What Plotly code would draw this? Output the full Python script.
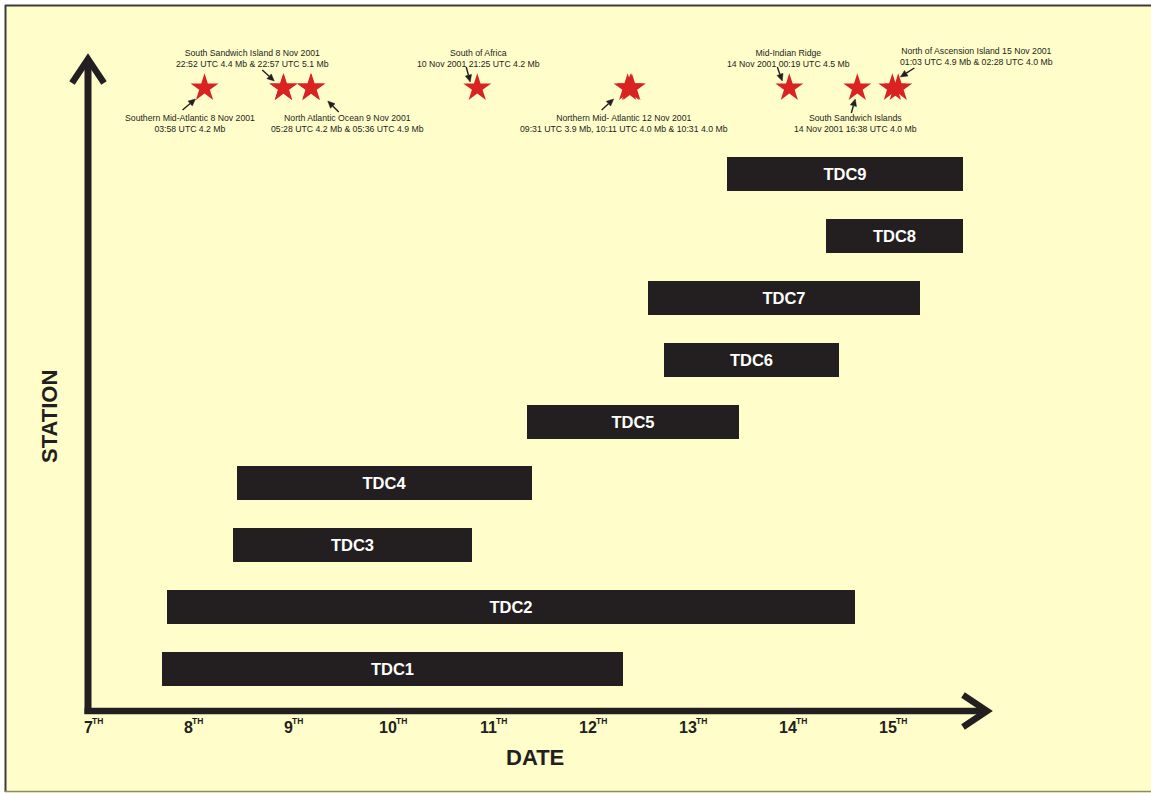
import math
import plotly.graph_objects as go
from datetime import datetime

# ---------------- data ----------------
stations = ["TDC1", "TDC2", "TDC3", "TDC4", "TDC5", "TDC6", "TDC7", "TDC8", "TDC9"]
# recording windows, in day-of-month (November 2001)
rec_start = [7.74, 7.79, 8.45, 8.49, 11.39, 12.76, 12.60, 14.38, 13.39]
rec_end = [12.35, 14.67, 10.84, 11.44, 13.51, 14.51, 15.32, 15.75, 15.75]

day_ticks = [7, 8, 9, 10, 11, 12, 13, 14, 15]
day_tick_text = ["7", "8", "9", "10", "11", "12", "13", "14", "15"]

# earthquakes, grouped by region as they are labelled
quake_groups = [
    {"times": ["2001-11-08 03:58"], "mb": [4.2],
     "label": ["Southern Mid-Atlantic 8 Nov 2001", "03:58 UTC 4.2 Mb"]},
    {"times": ["2001-11-08 22:52", "2001-11-08 22:57"], "mb": [4.4, 5.1],
     "label": ["South Sandwich Island 8 Nov 2001", "22:52 UTC 4.4 Mb & 22:57 UTC 5.1 Mb"]},
    {"times": ["2001-11-09 05:28", "2001-11-09 05:36"], "mb": [4.2, 4.9],
     "label": ["North Atlantic Ocean 9 Nov 2001", "05:28 UTC 4.2 Mb & 05:36 UTC 4.9 Mb"]},
    {"times": ["2001-11-10 21:25"], "mb": [4.2],
     "label": ["South of Africa", "10 Nov 2001 21:25 UTC 4.2 Mb"]},
    {"times": ["2001-11-12 09:31", "2001-11-12 10:11", "2001-11-12 10:31"], "mb": [3.9, 4.0, 4.0],
     "label": ["Northern Mid- Atlantic 12 Nov 2001",
               "09:31 UTC 3.9 Mb, 10:11 UTC 4.0 Mb & 10:31 4.0 Mb"]},
    {"times": ["2001-11-14 00:19"], "mb": [4.5],
     "label": ["Mid-Indian Ridge", "14 Nov 2001 00:19 UTC 4.5 Mb"]},
    {"times": ["2001-11-14 16:38"], "mb": [4.0],
     "label": ["South Sandwich Islands", "14 Nov 2001 16:38 UTC 4.0 Mb"]},
    {"times": ["2001-11-15 01:03", "2001-11-15 02:28"], "mb": [4.9, 4.0],
     "label": ["North of Ascension Island 15 Nov 2001", "01:03 UTC 4.9 Mb & 02:28 UTC 4.0 Mb"]},
]

# label placement for each group, in pixels relative to the first star:
# (label dx, label dy, arrow-head dx, arrow-head dy, arrow-tail dx, arrow-tail dy)
label_layout = [
    (-15, 35, -9, 11, -22, 22),
    (-31, -30, -9, -7, -21, -18),
    (37, 35, 17, 13, 28, 24),
    (1, -30, -7, -6, -11, -21),
    (-4, 35, -14, 11, -26, 22),
    (-1, -30, -7, -7, -12, -21),
    (-2, 35, -2, 11, -6, 25),
    (84, -32, 8, -11, 22, -20),
]

# ---------------- frame geometry ----------------
W, H = 1151, 793
ORIGIN_X, ORIGIN_Y = 88, 711     # pixel position of the axis corner
PX_DAY = 100                     # pixels per day
ROW1_Y, ROW_PX = 669, 61.875     # pixel centre of first station row, row spacing
STAR_PX_Y = 88

INK = "#231F20"
RED = "#D92323"
BG = "#FFFDC9"
FONT = "Arial, Liberation Sans, sans-serif"


def xd(px):
    return 7 + (px - ORIGIN_X) / PX_DAY


def xpx(day):
    return ORIGIN_X + (day - 7) * PX_DAY


def yd(py):
    return 1 + (ROW1_Y - py) / ROW_PX


def to_day(ts):
    t = datetime.strptime(ts, "%Y-%m-%d %H:%M")
    return t.day + t.hour / 24 + t.minute / 1440


def path(points, close=False):
    p = "M " + " L ".join(f"{xd(px):.5f},{yd(py):.5f}" for px, py in points)
    return p + (" Z" if close else "")


fig = go.Figure()

rows = list(range(1, len(stations) + 1))
fig.add_trace(go.Bar(
    y=rows,
    x=[e - s for s, e in zip(rec_start, rec_end)],
    base=rec_start,
    orientation="h",
    width=34 / ROW_PX,
    marker=dict(color=INK, line=dict(width=0)),
    text=stations,
    textposition="inside",
    insidetextanchor="middle",
    textfont=dict(family=FONT, size=16.5, color="white", weight="bold"),
    hoverinfo="skip",
    showlegend=False,
))

star_row = yd(STAR_PX_Y)
all_x = [to_day(t) for g in quake_groups for t in g["times"]]
fig.add_trace(go.Scatter(
    x=all_x,
    y=[star_row] * len(all_x),
    mode="markers",
    marker=dict(symbol="star", size=21, color=RED, line=dict(width=0)),
    hoverinfo="skip",
    showlegend=False,
))

annotations = []
pointer_shapes = []
for g, (ldx, ldy, hdx, hdy, tdx, tdy) in zip(quake_groups, label_layout):
    gx = to_day(g["times"][0])
    sx = xpx(gx)
    annotations.append(dict(
        x=gx, y=star_row, xref="x", yref="y",
        text="<br>".join(g["label"]), showarrow=False,
        xshift=ldx, yshift=-ldy, xanchor="center", yanchor="middle",
        font=dict(family=FONT, size=8.7, color=INK),
    ))
    # pointer: shaft plus a filled triangular head
    hx, hy = sx + hdx, STAR_PX_Y + hdy
    tx, ty = sx + tdx, STAR_PX_Y + tdy
    L = math.hypot(hx - tx, hy - ty)
    ux, uy = (hx - tx) / L, (hy - ty) / L
    bx, by = hx - ux * 7, hy - uy * 7
    pointer_shapes.append(dict(type="path", path=path([(tx, ty), (bx, by)]),
                               line=dict(color=INK, width=1.4)))
    pointer_shapes.append(dict(type="path",
                               path=path([(hx, hy), (bx - uy * 3.2, by + ux * 3.2),
                                          (bx + uy * 3.2, by - ux * 3.2)], close=True),
                               fillcolor=INK, line=dict(color=INK, width=0.5)))

# day labels under the time axis: number plus a small raised "TH"
for d, txt in zip(day_ticks, day_tick_text):
    annotations.append(dict(
        x=d, y=yd(727), xref="x", yref="y", text=txt,
        showarrow=False, xanchor="center", yanchor="middle",
        font=dict(family=FONT, size=16, color=INK, weight="bold"),
    ))
    annotations.append(dict(
        x=d, y=yd(721), xref="x", yref="y", text="TH",
        showarrow=False, xanchor="left", yanchor="middle",
        xshift=4.45 * len(txt) - 2.5,
        font=dict(family=FONT, size=8.5, color=INK, weight="bold"),
    ))

annotations.append(dict(
    x=xd(535), y=yd(757), xref="x", yref="y", text="DATE", showarrow=False,
    font=dict(family=FONT, size=22, color=INK, weight="bold"),
))
annotations.append(dict(
    x=xd(49), y=yd(417), xref="x", yref="y", text="STATION", showarrow=False,
    textangle=-90, font=dict(family=FONT, size=22, color=INK, weight="bold"),
))

shapes = [
    # white page margin outside the frame (top and left)
    dict(type="rect", xref="paper", yref="paper", x0=0, x1=1,
         y0=1 - 5 / H, y1=1, fillcolor="white", line=dict(width=0), layer="below"),
    dict(type="rect", xref="paper", yref="paper", x0=0, x1=5 / W,
         y0=0, y1=1, fillcolor="white", line=dict(width=0), layer="below"),
    # frame border
    dict(type="line", xref="paper", yref="paper", x0=5 / W, x1=1,
         y0=1 - 5.5 / H, y1=1 - 5.5 / H, line=dict(color="#3c3c3c", width=2)),
    dict(type="line", xref="paper", yref="paper", x0=5.5 / W, x1=5.5 / W,
         y0=1 - 792 / H, y1=1 - 5 / H, line=dict(color="#3c3c3c", width=2)),
    dict(type="line", xref="paper", yref="paper", x0=5 / W, x1=1,
         y0=1 - 791.5 / H, y1=1 - 791.5 / H, line=dict(color="#8c8c6c", width=1.5)),
    # station axis with arrow
    dict(type="path", path=path([(ORIGIN_X, ORIGIN_Y + 3), (ORIGIN_X, 62)]),
         line=dict(color=INK, width=7)),
    dict(type="path", path=path([(72, 83), (ORIGIN_X, 59), (104, 83)]),
         line=dict(color=INK, width=6.5)),
    # date axis with arrow
    dict(type="path", path=path([(ORIGIN_X - 3.5, ORIGIN_Y), (985, ORIGIN_Y)]),
         line=dict(color=INK, width=6.5)),
    dict(type="path", path=path([(963, 695), (987, ORIGIN_Y), (963, 727)]),
         line=dict(color=INK, width=6.5)),
] + pointer_shapes

fig.update_layout(
    width=W, height=H,
    margin=dict(l=0, r=0, t=0, b=0),
    paper_bgcolor=BG,
    plot_bgcolor="rgba(0,0,0,0)",
    xaxis=dict(range=[xd(0), xd(W)], visible=False, fixedrange=True),
    yaxis=dict(range=[yd(H), yd(0)], visible=False, fixedrange=True),
    annotations=annotations,
    shapes=shapes,
    bargap=0,
)

fig.write_html("out.html")
